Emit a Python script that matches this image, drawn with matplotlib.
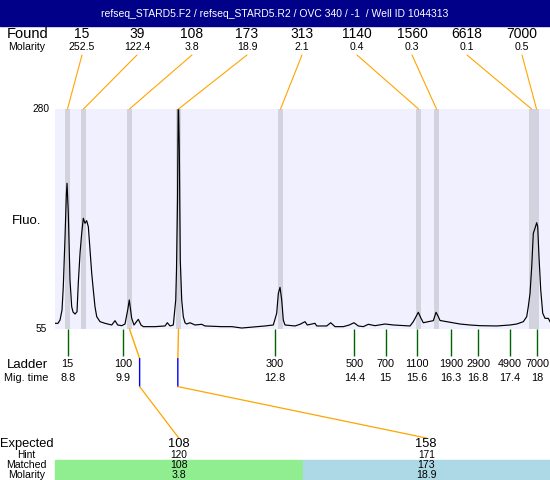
import matplotlib
matplotlib.use('Agg')
import matplotlib.pyplot as plt
from matplotlib.patches import ConnectionPatch, Rectangle

plt.rcParams['font.family'] = ['Liberation Sans', 'DejaVu Sans']

title = 'refseq_STARD5.F2 / refseq_STARD5.R2 / OVC 340 / -1  / Well ID 1044313'

# peaks found (size in bp, molarity, migration time)
found_size = [15, 39, 108, 173, 313, 1140, 1560, 6618, 7000]
found_molarity = [252.5, 122.4, 3.8, 18.9, 2.1, 0.4, 0.3, 0.1, 0.5]
found_time = [8.787, 9.100, 9.998, 10.955, 12.948, 15.643, 15.994, 17.850, 17.948]

# ladder
ladder_size = [15, 100, 300, 500, 700, 1100, 1900, 2900, 4900, 7000]
ladder_time = [8.79, 9.88, 12.84, 14.39, 15.0, 15.61, 16.28, 16.81, 17.42, 17.96]

# expected fragments
expected_size = [108, 158]
hint_size = [120, 171]
hint_time = [10.196, 10.942]
matched_size = [108, 173]
matched_molarity = [3.8, 18.9]
matched_color = ['#90EE90', '#ADD8E6']

# electropherogram trace
trace_time = [8.543, 8.602, 8.641, 8.680, 8.705, 8.739, 8.764, 8.778, 8.803, 8.836,
              8.869, 8.895, 8.934, 8.973, 8.998, 9.032, 9.065, 9.096, 9.129, 9.162,
              9.194, 9.227, 9.260, 9.291, 9.324, 9.358, 9.422, 9.520, 9.651, 9.715,
              9.768, 9.846, 9.910, 9.963, 9.994, 10.041, 10.086, 10.170, 10.223, 10.268,
              10.496, 10.692, 10.737, 10.789, 10.854, 10.901, 10.916, 10.936, 10.951, 10.971,
              10.990, 11.018, 11.049, 11.082, 11.115, 11.180, 11.278, 11.408, 11.473, 11.8,
              12.0, 12.190, 12.645, 12.807, 12.873, 12.905, 12.938, 12.971, 13.002, 13.035,
              13.231, 13.328, 13.426, 13.471, 13.621, 13.655, 13.850, 13.928, 14.012, 14.174,
              14.291, 14.383, 14.467, 14.565, 14.662, 14.793, 14.989, 15.151, 15.477, 15.541,
              15.639, 15.692, 15.737, 15.834, 15.932, 15.985, 16.030, 16.063, 16.258, 16.453,
              16.649, 16.844, 17.170, 17.430, 17.561, 17.690, 17.756, 17.787, 17.821, 17.854,
              17.885, 17.918, 17.951, 17.971, 17.996, 18.030, 18.069, 18.114, 18.178, 18.211]
trace_fluo = [60.8, 60.8, 64.2, 74.4, 98.3, 149.4, 192.0, 204.0, 173.6, 105.1,
              77.8, 72.4, 70.3, 72.7, 102.0, 132.7, 153.2, 168.2, 163.1, 165.8,
              159.6, 135.8, 112.0, 94.9, 77.8, 67.6, 62.5, 60.8, 59.1, 63.5,
              59.1, 58.4, 60.1, 74.4, 84.7, 65.9, 59.1, 64.9, 59.1, 57.4,
              57.4, 58.1, 61.4, 58.1, 59.1, 84.7, 115.3, 186.9, 300.0, 238.0,
              125.6, 84.7, 67.6, 61.4, 60.1, 61.4, 59.1, 59.8, 58.1, 57.4,
              57.4, 56.0, 58.1, 59.1, 71.1, 91.5, 97.6, 84.7, 64.2, 59.1,
              58.1, 59.8, 62.5, 59.1, 60.8, 58.1, 58.1, 61.4, 57.4, 57.4,
              59.1, 61.4, 58.1, 57.4, 59.8, 58.4, 60.1, 59.1, 58.1, 62.5,
              72.1, 65.9, 61.4, 62.5, 63.5, 72.1, 67.6, 63.7, 61.9, 60.1,
              59.1, 58.4, 58.1, 59.1, 60.1, 62.5, 67.6, 77.8, 91.5, 118.7,
              152.9, 158.0, 163.7, 159.6, 128.9, 94.9, 71.1, 65.9, 65.9, 62.5]

W, H = 550, 480


def fx(x):
    return x / W


def fy(y):
    return 1 - y / H


def fmt(v):
    return '%g' % round(v, 1)


fig = plt.figure(figsize=(5.5, 4.8), dpi=100)

# header bar
fig.patches.append(Rectangle((0, fy(26)), 1, 26 / H, transform=fig.transFigure,
                             color='#000088', zorder=0))
fig.text(0.5, fy(14), title, color='white', ha='center', va='center', fontsize=7.5)

ax = fig.add_axes([fx(55), fy(329), 495 / W, 220 / H])
ax.set_facecolor('#F0F0FF')
ax.set_xlim(8.543, 18.211)
ax.set_ylim(55, 280)
for s in ax.spines.values():
    s.set_visible(False)
ax.set_xticks([])
ax.set_yticks([])
xt = ax.get_xaxis_transform()

for v in [280, 55]:
    ax.text(-14 / 495, v, str(v), transform=ax.get_yaxis_transform(),
            ha='center', va='center', fontsize=7.3)
fig.text(fx(26.5), fy(221), 'Fluo.', ha='center', va='center', fontsize=9.5)

# found peak bands and trace
for t in found_time:
    ax.axvspan(t - 0.049, t + 0.049, color='#D3D3E0', lw=0, zorder=1)
ax.plot(trace_time, trace_fluo, color='black', lw=0.85, zorder=3)

# top labels
fig.text(fx(28), fy(34), 'Found', ha='center', va='center', fontsize=10.5)
fig.text(fx(27), fy(47.5), 'Molarity', ha='center', va='center', fontsize=7.6)
for i, (s, m, t) in enumerate(zip(found_size, found_molarity, found_time)):
    x = 82 + 55 * i
    fig.text(fx(x), fy(34), str(s), ha='center', va='center', fontsize=10)
    fig.text(fx(x), fy(47.5), fmt(m), ha='center', va='center', fontsize=7.6)
    fig.add_artist(ConnectionPatch(xyA=(fx(x), fy(55)), coordsA='figure fraction',
                                   xyB=(t, 1), coordsB=xt, color='#FFA500', lw=0.8))

# ladder
ax.vlines(ladder_time, -27 / 220, 0, transform=xt,
          colors='#006400', lw=1.0, clip_on=False)
fig.text(fx(27), fy(364.5), 'Ladder', ha='center', va='center', fontsize=9.5)
fig.text(fx(26.5), fy(378), 'Mig. time', ha='center', va='center', fontsize=7.8)
for s, t in zip(ladder_size, ladder_time):
    ax.text(t, -35 / 220, str(s), transform=xt, ha='center', va='center', fontsize=7.8)
    ax.text(t, -49 / 220, fmt(t), transform=xt, ha='center', va='center', fontsize=7.8)

# expected table
col_w = 495 / len(expected_size)
for j, (e, h, ht, ms, mm, c) in enumerate(zip(expected_size, hint_size, hint_time,
                                              matched_size, matched_molarity, matched_color)):
    cx = 55 + col_w * (j + 0.5)
    fig.patches.append(Rectangle((fx(55 + col_w * j), 0), col_w / W, 20 / H,
                                 transform=fig.transFigure, color=c, zorder=0))
    fig.text(fx(cx), fy(444), str(e), ha='center', va='center', fontsize=9.3)
    fig.text(fx(cx), fy(455), str(h), ha='center', va='center', fontsize=7.3)
    fig.text(fx(cx), fy(465.5), str(ms), ha='center', va='center', fontsize=7.6)
    fig.text(fx(cx), fy(475), fmt(mm), ha='center', va='center', fontsize=7.6)

    # link: matched peak -> hint position -> expected column
    tf = found_time[found_size.index(ms)]
    y1, y2 = -29.6 / 220, -57.6 / 220
    fig.add_artist(ConnectionPatch(xyA=(tf, 0), coordsA=xt, xyB=(ht, y1), coordsB=xt,
                                   color='#FFA500', lw=1.0, shrinkA=0, shrinkB=0))
    fig.add_artist(ConnectionPatch(xyA=(ht, y1), coordsA=xt, xyB=(ht, y2), coordsB=xt,
                                   color='#0000FF', lw=1.0, shrinkA=0, shrinkB=0))
    fig.add_artist(ConnectionPatch(xyA=(ht, y2), coordsA=xt,
                                   xyB=(fx(cx), fy(438)), coordsB='figure fraction',
                                   color='#FFA500', lw=0.9, shrinkA=0, shrinkB=0))

fig.text(fx(26.5), fy(444), 'Expected', ha='center', va='center', fontsize=9.3)
fig.text(fx(26.5), fy(455), 'Hint', ha='center', va='center', fontsize=7.3)
fig.text(fx(26.5), fy(465.5), 'Matched', ha='center', va='center', fontsize=7.6)
fig.text(fx(26.5), fy(475), 'Molarity', ha='center', va='center', fontsize=7.6)

fig.savefig('out.png', dpi=100)
